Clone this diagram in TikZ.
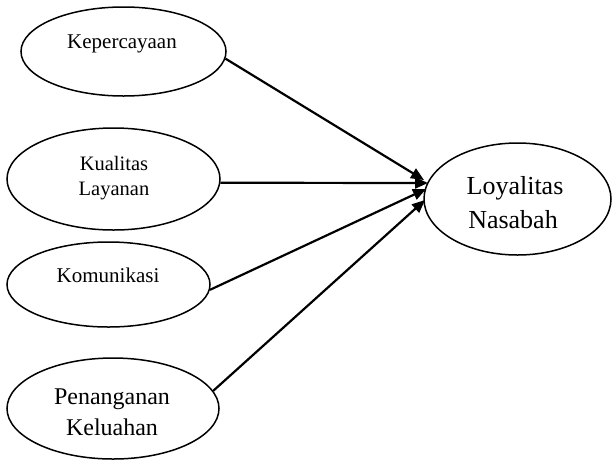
\documentclass[tikz,border=0pt]{standalone}
\usepackage{fontspec}
\setmainfont{Liberation Serif}
\usetikzlibrary{shapes.geometric,arrows.meta}
\begin{document}
\begin{tikzpicture}[x=1pt,y=-1pt,
  oval/.style={ellipse,draw=black,line width=1.5pt,inner sep=0pt},
  lbl/.style={anchor=base,inner sep=0pt},
  conn/.style={line width=2.2pt,-{Triangle[length=13pt,width=11pt]}}]
\useasboundingbox (0,0) rectangle (612,459);
\node[oval,minimum width=205pt,minimum height=89pt] (e1) at (123.5,51.5) {};
\node[oval,minimum width=213pt,minimum height=102pt] (e2) at (113.5,179) {};
\node[oval,minimum width=203pt,minimum height=85pt] (e3) at (108.5,284.5) {};
\node[oval,minimum width=212pt,minimum height=101pt] (e4) at (113,408.5) {};
\node[oval,minimum width=187pt,minimum height=112pt] (e5) at (517.5,199) {};
\node[lbl,font=\fontsize{21}{25}\selectfont] (t1) at (122,48) {Kepercayaan};
\node[lbl,font=\fontsize{20.5}{25}\selectfont] (t2a) at (114,170) {Kualitas};
\node[lbl,font=\fontsize{20.5}{25}\selectfont] (t2b) at (114,195) {Layanan};
\node[lbl,font=\fontsize{21}{25}\selectfont] (t3) at (108,282) {Komunikasi};
\node[lbl,font=\fontsize{24}{30}\selectfont] (t4a) at (112,404) {Penanganan};
\node[lbl,font=\fontsize{24}{30}\selectfont] (t4b) at (112,435) {Keluahan};
\node[lbl,font=\fontsize{26}{34}\selectfont] (t5a) at (515,194) {Loyalitas};
\node[lbl,font=\fontsize{26}{34}\selectfont] (t5b) at (513,228) {Nasabah};
\coordinate (p1) at (424,180);
\coordinate (p2) at (428,183);
\coordinate (p3) at (426,189);
\coordinate (p4) at (425,200);
\draw[conn] (e1.-4) -- (p1);
\draw[conn] (e2.-2) -- (p2);
\draw[conn] (e3.-3) -- (p3);
\draw[conn] (e4.10) -- (p4);
\end{tikzpicture}
\end{document}
